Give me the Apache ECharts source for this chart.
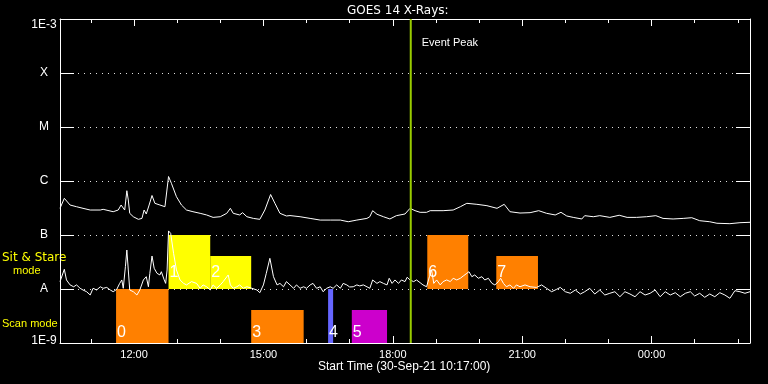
<!DOCTYPE html>
<html><head><meta charset="utf-8">
<script src="https://cdn.jsdelivr.net/npm/echarts@6/dist/echarts.min.js"></script>
<style>html,body{margin:0;padding:0;background:#000}#c{width:768px;height:384px}</style>
</head><body><div id="c"></div>
<script>
// Times are minutes after 00:00 UT on 30-Sep-21 (values > 1440 fall on 01-Oct)
const startTime = 617;   // 10:17
const endTime = 1577;    // 02:17 next day
const eventPeakTime = 1105;

// GOES 14 long channel (1-8 A), W/m^2
const longChannel = [
[617,3.12e-7],[623,4.78e-7],[631,3.59e-7],[640,3.34e-7],[649,3.12e-7],[659,2.90e-7],[673,2.90e-7],[677,2.99e-7],
[691,2.70e-7],[698,2.90e-7],[702,3.59e-7],[707,2.90e-7],[710,6.61e-7],[712,4.45e-7],[714,2.52e-7],[719,2.18e-7],
[726,1.95e-7],[731,2.03e-7],[734,2.90e-7],[737,2.45e-7],[741,3.59e-7],[745,5.39e-7],[749,3.86e-7],[756,3.59e-7],
[763,3.34e-7],[768,1.21e-6],[772,9.06e-7],[779,5.12e-7],[786,3.59e-7],[793,2.90e-7],[802,2.70e-7],[812,2.52e-7],
[821,2.35e-7],[830,2.12e-7],[840,2.18e-7],[849,2.52e-7],[854,3.12e-7],[858,2.52e-7],[867,2.35e-7],[871,2.59e-7],
[877,2.18e-7],[886,2.03e-7],[895,1.95e-7],[902,2.90e-7],[910,5.62e-7],[916,3.86e-7],[923,2.52e-7],[932,2.25e-7],
[937,2.29e-7],[951,2.18e-7],[965,2.03e-7],[979,1.89e-7],[993,1.89e-7],[1007,1.89e-7],[1018,1.76e-7],[1030,1.89e-7],
[1044,2.03e-7],[1048,2.18e-7],[1052,2.82e-7],[1058,2.42e-7],[1067,2.18e-7],[1076,1.98e-7],[1085,2.28e-7],[1097,2.45e-7],
[1104,3.12e-7],[1111,2.82e-7],[1118,2.63e-7],[1127,2.63e-7],[1132,2.82e-7],[1150,2.82e-7],[1164,2.90e-7],[1174,3.34e-7],
[1183,3.86e-7],[1197,3.70e-7],[1211,3.49e-7],[1225,3.12e-7],[1235,3.70e-7],[1243,2.70e-7],[1257,2.55e-7],[1271,2.59e-7],
[1283,2.82e-7],[1294,2.52e-7],[1306,2.35e-7],[1314,2.63e-7],[1322,2.25e-7],[1331,2.12e-7],[1343,1.98e-7],[1347,2.28e-7],
[1359,2.18e-7],[1368,2.28e-7],[1382,2.12e-7],[1395,2.32e-7],[1406,2.12e-7],[1419,2.12e-7],[1433,2.18e-7],[1446,2.28e-7],
[1456,2.03e-7],[1470,1.98e-7],[1484,2.03e-7],[1496,2.09e-7],[1507,1.84e-7],[1521,1.76e-7],[1531,1.65e-7],[1549,1.62e-7],
[1563,1.69e-7],[1577,1.72e-7]
];

// GOES 14 short channel (0.5-4 A), W/m^2
const shortChannel = [
[617,1.37e-8],[623,2.32e-8],[626,1.47e-8],[631,1.19e-8],[636,1.10e-8],[640,1.19e-8],[645,1.03e-8],[649,9.58e-9],
[654,8.91e-9],[659,7.74e-9],[663,1.03e-8],[668,9.58e-9],[673,1.10e-8],[677,1.03e-8],[682,1.07e-8],[687,9.58e-9],
[691,8.91e-9],[696,9.87e-9],[700,1.27e-8],[703,1.47e-8],[705,1.03e-8],[708,2.59e-8],[710,5.27e-8],[712,2.25e-8],
[714,9.58e-9],[719,8.91e-9],[724,7.74e-9],[728,9.58e-9],[733,1.47e-8],[737,1.69e-8],[740,1.10e-8],[742,1.95e-8],
[745,4.08e-8],[748,2.42e-8],[752,1.95e-8],[756,1.82e-8],[758,2.09e-8],[762,1.47e-8],[764,1.27e-8],[766,2.25e-8],
[768,1.19e-7],[771,1.07e-7],[775,4.58e-8],[779,2.25e-8],[784,1.47e-8],[789,1.27e-8],[793,1.19e-8],[800,1.37e-8],
[807,1.27e-8],[812,1.03e-8],[816,1.19e-8],[821,1.10e-8],[826,9.58e-9],[830,1.19e-8],[835,1.03e-8],[840,1.19e-8],
[844,1.37e-8],[851,1.82e-8],[854,1.19e-8],[858,1.03e-8],[863,1.10e-8],[867,1.19e-8],[872,1.03e-8],[877,1.10e-8],
[884,1.03e-8],[891,9.58e-9],[895,8.54e-9],[900,1.19e-8],[904,1.95e-8],[909,3.70e-8],[914,1.69e-8],[919,1.19e-8],
[923,1.27e-8],[928,1.10e-8],[932,1.37e-8],[937,1.19e-8],[942,1.03e-8],[946,1.19e-8],[951,1.03e-8],[956,1.10e-8],
[960,1.03e-8],[965,1.19e-8],[969,1.27e-8],[974,1.03e-8],[979,1.10e-8],[983,8.91e-9],[988,1.03e-8],[993,1.10e-8],
[997,1.03e-8],[1002,1.19e-8],[1007,1.03e-8],[1011,1.27e-8],[1016,1.19e-8],[1020,1.09e-8],[1025,1.10e-8],[1030,1.19e-8],
[1034,1.14e-8],[1039,1.19e-8],[1044,1.10e-8],[1048,1.03e-8],[1052,1.47e-8],[1058,1.27e-8],[1062,1.37e-8],[1067,1.27e-8],
[1072,1.19e-8],[1075,1.58e-8],[1079,1.27e-8],[1083,1.47e-8],[1088,1.27e-8],[1092,1.47e-8],[1097,1.37e-8],[1100,1.65e-8],
[1104,1.47e-8],[1109,1.37e-8],[1113,1.47e-8],[1118,1.31e-8],[1122,1.19e-8],[1127,1.10e-8],[1131,1.69e-8],[1134,2.25e-8],
[1137,1.27e-8],[1141,1.47e-8],[1146,1.19e-8],[1150,1.37e-8],[1155,1.47e-8],[1160,1.37e-8],[1164,1.58e-8],[1169,1.47e-8],
[1174,1.58e-8],[1178,1.74e-8],[1183,1.95e-8],[1186,2.09e-8],[1190,1.69e-8],[1194,1.82e-8],[1199,1.58e-8],[1204,1.69e-8],
[1208,1.47e-8],[1213,1.58e-8],[1218,1.27e-8],[1222,1.19e-8],[1227,1.37e-8],[1230,1.58e-8],[1234,1.27e-8],[1238,1.10e-8],
[1243,1.19e-8],[1248,1.03e-8],[1252,1.19e-8],[1257,1.10e-8],[1264,1.19e-8],[1271,1.10e-8],[1280,1.07e-8],[1287,1.19e-8],
[1294,1.03e-8],[1301,8.91e-9],[1308,9.87e-9],[1313,1.07e-8],[1320,8.91e-9],[1327,8.33e-9],[1334,9.58e-9],[1341,8.08e-9],
[1347,8.91e-9],[1354,1.03e-8],[1361,8.08e-9],[1368,9.58e-9],[1375,7.74e-9],[1382,8.33e-9],[1389,8.91e-9],[1396,7.20e-9],
[1403,8.91e-9],[1410,8.08e-9],[1417,7.20e-9],[1424,8.91e-9],[1431,7.74e-9],[1438,8.33e-9],[1445,9.58e-9],[1452,7.20e-9],
[1459,8.91e-9],[1466,7.74e-9],[1473,8.54e-9],[1480,7.20e-9],[1487,8.33e-9],[1494,8.91e-9],[1500,7.42e-9],[1507,8.33e-9],
[1514,7.02e-9],[1521,8.08e-9],[1528,7.20e-9],[1535,8.54e-9],[1542,7.74e-9],[1549,6.73e-9],[1556,9.30e-9],[1563,8.91e-9],
[1570,8.33e-9],[1577,8.91e-9]
];

// Observation blocks (raster numbers), start/end minutes, flux-axis bottom/top
const rasterLabels = ['0','1','2','3','4','5','6','7'];
const rasterStart  = [695, 768, 826, 883, 990, 1023, 1128, 1224];
const rasterEnd    = [768, 826, 883, 956, 997, 1072, 1185, 1282];
const rasterLow    = [1e-9, 1e-8, 1e-8, 1e-9, 1e-9, 1e-9, 1e-8, 1e-8];
const rasterHigh   = [1e-8, 1e-7, 4.1e-8, 4.1e-9, 1e-8, 4.1e-9, 1e-7, 4.1e-8];

const xLabelTimes = [720, 900, 1080, 1260, 1440];
const xHourTimes = [660,720,780,840,900,960,1020,1080,1140,1200,1260,1320,1380,1440,1500,1560];
const yTickLabels = ['1E-9','A','B','C','M','X','1E-3'];

// ---- styles ----
const rasterColors = ['#ff8000','#ffff00','#ffff00','#ff8000','#6666ff','#cc00cc','#ff8000','#ff8000'];
const FONT = 'Liberation Sans';

const rasterData = rasterLabels.map((l, i) => [rasterStart[i], rasterEnd[i], rasterLow[i], rasterHigh[i]]);

function fmtTime(v) {
  const m = ((Math.round(v) % 1440) + 1440) % 1440;
  const h = Math.floor(m / 60), mm = m % 60;
  return String(h).padStart(2, '0') + ':' + String(mm).padStart(2, '0');
}

function xAxisDef(pos, major) {
  return {
    type: 'value', gridIndex: 0, position: pos, min: startTime, max: endTime,
    axisLine: { show: major, onZero: false, lineStyle: { color: '#fff', width: 1 } },
    axisTick: { show: true, inside: true, length: major ? 7 : 4,
      customValues: major ? xLabelTimes : xHourTimes, lineStyle: { color: '#fff', width: 1 } },
    axisLabel: { show: major && pos === 'bottom', customValues: xLabelTimes, formatter: fmtTime,
      color: '#fff', fontFamily: FONT, fontSize: 11, margin: 6 },
    splitLine: { show: false }
  };
}

const chart = echarts.init(document.getElementById('c'), null, { renderer: 'canvas' });
chart.setOption({
  backgroundColor: '#000',
  animation: false,
  grid: { left: 60, right: 18, top: 19, bottom: 41, containLabel: false },
  xAxis: [xAxisDef('bottom', true), xAxisDef('bottom', false), xAxisDef('top', true), xAxisDef('top', false)],
  yAxis: [
    {
      type: 'log', logBase: 10, min: 1e-9, max: 1e-3, splitNumber: 6, position: 'left',
      axisLine: { show: true, onZero: false, lineStyle: { color: '#fff', width: 1 } },
      axisTick: { show: true, inside: true, length: 14, lineStyle: { color: '#fff', width: 1 } },
      minorTick: { show: false },
      axisLabel: {
        color: '#fff', fontFamily: FONT, fontSize: 12, align: 'center', margin: 16,
        formatter: function (v) {
          const k = Math.round(Math.log10(v)) + 9;
          const t = yTickLabels[k];
          if (k === 6) return '{top|' + t + '}';
          if (k === 0) return '{bot|' + t + '}';
          return t;
        },
        rich: {
          top: { color: '#fff', fontFamily: FONT, fontSize: 12, padding: [12, 0, 0, 0] },
          bot: { color: '#fff', fontFamily: FONT, fontSize: 12, padding: [0, 0, 5, 0] }
        }
      },
      splitLine: { show: true, lineStyle: { color: '#e0e0e0', width: 1, type: [1, 5] } }
    },
    {
      type: 'log', logBase: 10, min: 1e-9, max: 1e-3, splitNumber: 6, position: 'right',
      axisLine: { show: true, onZero: false, lineStyle: { color: '#fff', width: 1 } },
      axisTick: { show: true, inside: true, length: 14, lineStyle: { color: '#fff', width: 1 } },
      axisLabel: { show: false },
      splitLine: { show: false }
    }
  ],
  graphic: [
    { type: 'text', left: 347, top: 5, style: { text: 'GOES 14 X-Rays:', fill: '#fff', font: '12px "DejaVu Sans"' } },
    { type: 'text', left: 2, top: 252, style: { text: 'Sit & Stare', fill: '#ffff00', font: '12px "DejaVu Sans"' } },
    { type: 'text', left: 13, top: 265, style: { text: 'mode', fill: '#ffff00', font: '11px ' + FONT } },
    { type: 'text', left: 2, top: 318, style: { text: 'Scan mode', fill: '#ffff00', font: '11px ' + FONT } },
    { type: 'text', left: 318, top: 361, style: { text: 'Start Time (30-Sep-21 10:17:00)', fill: '#fff', font: '12px ' + FONT } }
  ],
  series: [
    {
      type: 'custom', xAxisIndex: 0, yAxisIndex: 0, z: 1, clip: true,
      data: rasterData,
      renderItem: function (params, api) {
        const i = params.dataIndex;
        const p0 = api.coord([api.value(0), api.value(3)]);
        const p1 = api.coord([api.value(1), api.value(2)]);
        const scan = api.value(2) < 5e-9;
        return {
          type: 'group',
          children: [
            { type: 'rect', shape: { x: p0[0], y: p0[1], width: p1[0] - p0[0], height: p1[1] - p0[1] },
              style: { fill: rasterColors[i] } },
            { type: 'text', z2: 10, style: { text: rasterLabels[i], x: p0[0] + 1, y: p1[1] - (scan ? 2 : 8),
              verticalAlign: 'bottom', align: 'left', fill: '#fff', font: '16px ' + FONT } }
          ]
        };
      }
    },
    {
      type: 'line', xAxisIndex: 0, yAxisIndex: 0, z: 3, data: longChannel, symbol: 'none',
      lineStyle: { color: '#fff', width: 1 }
    },
    {
      type: 'line', xAxisIndex: 0, yAxisIndex: 0, z: 3, data: shortChannel, symbol: 'none',
      lineStyle: { color: '#fff', width: 1 }
    },
    {
      type: 'custom', xAxisIndex: 0, yAxisIndex: 0, z: 5,
      data: [[eventPeakTime]],
      renderItem: function (params, api) {
        const top = api.coord([api.value(0), 1e-3]);
        const bot = api.coord([api.value(0), 1e-9]);
        return {
          type: 'group',
          children: [
            { type: 'line', shape: { x1: top[0], y1: top[1], x2: bot[0], y2: bot[1] },
              style: { stroke: '#99cc00', lineWidth: 2 } },
            { type: 'text', style: { text: 'Event Peak', x: top[0] + 11, y: top[1] + 18,
              fill: '#fff', font: '11px ' + FONT, verticalAlign: 'top' } }
          ]
        };
      }
    }
  ]
});
</script></body></html>
